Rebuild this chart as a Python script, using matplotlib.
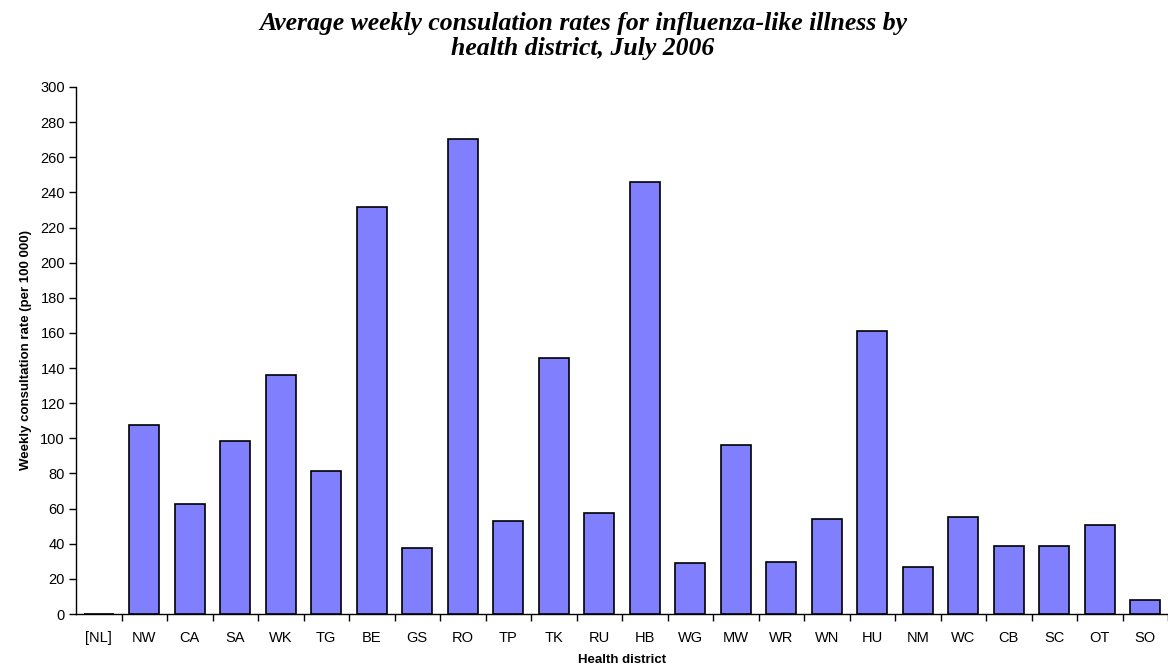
import matplotlib
matplotlib.use("Agg")
import matplotlib.pyplot as plt
import numpy as np

districts = ["[NL]", "NW", "CA", "SA", "WK", "TG", "BE", "GS", "RO", "TP", "TK", "RU",
             "HB", "WG", "MW", "WR", "WN", "HU", "NM", "WC", "CB", "SC", "OT", "SO"]
rates = [0, 107.5, 62.8, 98.6, 135.8, 81.5, 231.6, 37.5, 270.3, 53.0, 146.0, 57.5,
         245.8, 29.2, 96.1, 29.4, 53.9, 161.0, 26.6, 55.4, 38.7, 38.7, 50.8, 8.0]
yticks = list(range(0, 301, 20))

fig = plt.figure(figsize=(11.68, 6.70), dpi=100)
ax = fig.add_axes([76/1168, 1-614/670, 1-76/1168, (614-87)/670])

x = np.arange(len(districts))
ax.bar(x, rates, width=0.66, color="#8080FF", edgecolor="black", linewidth=1.2, zorder=3)

ax.set_xlim(-0.5, len(districts) - 0.5)
ax.set_ylim(0, 300)
ax.set_yticks(yticks)
ax.set_yticklabels([str(t) for t in yticks], fontsize=10.5, family="Liberation Sans")
ax.set_xticks(x)
ax.set_xticklabels(districts, fontsize=10.5, family="Liberation Sans")
ax.set_xticks(np.arange(len(districts)) + 0.5, minor=True)
ax.tick_params(axis="x", which="major", length=0, pad=12)
ax.tick_params(axis="x", which="minor", length=5, width=1, direction="out")
ax.tick_params(axis="y", length=5, width=1, direction="out", pad=3)

for s in ["top", "right"]:
    ax.spines[s].set_visible(False)
ax.spines["left"].set_linewidth(1)
ax.spines["bottom"].set_linewidth(1)

ax.set_ylabel("Weekly consultation rate (per 100 000)", fontsize=9.5, fontweight="bold",
              family="Liberation Sans", labelpad=6)
ax.set_xlabel("Health district", fontsize=9.5, fontweight="bold", family="Liberation Sans",
              labelpad=7)

fig.text(583/1168, 0.982,
         "Average weekly consulation rates for influenza-like illness by\nhealth district, July 2006",
         ha="center", va="top", fontsize=18.5, fontweight="bold", style="italic",
         family="Liberation Serif", linespacing=1.08)

fig.savefig("out.png", dpi=100)
